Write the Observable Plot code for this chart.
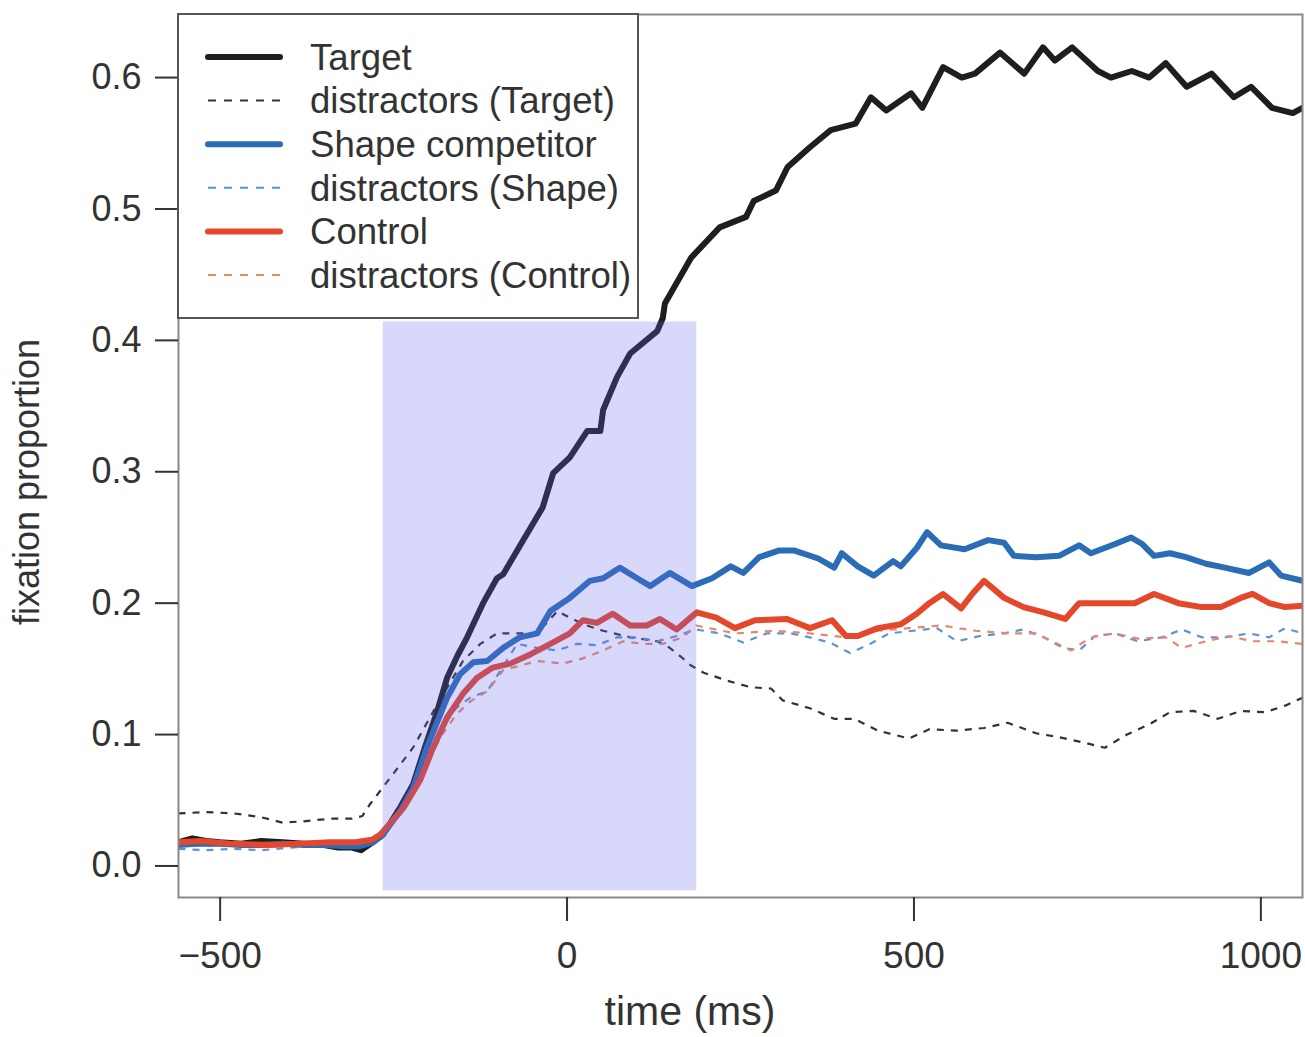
<!DOCTYPE html>
<html><head><meta charset="utf-8">
<script src="https://cdn.jsdelivr.net/npm/d3@7"></script>
<script src="https://cdn.jsdelivr.net/npm/@observablehq/plot@0.6"></script>
<style>
body{margin:0;background:#fff;}
#wrap{position:relative;width:1305px;height:1037px;}
#legend{position:absolute;left:177px;top:13px;}
</style></head><body><div id="wrap"></div>
<script>
// ---- data ----
const seriesNames = ["Target", "distractors (Target)", "Shape competitor", "distractors (Shape)", "Control", "distractors (Control)"];
const seriesColors = ["#1e1e1e", "#333333", "#2a6db4", "#5b95cf", "#e4472b", "#e8876f"];
const seriesDashed = [false, true, false, true, false, true];

const timesTarget = [-560,-540,-520,-500,-470,-441,-410,-380,-350,-330,-310,-297,-280,-265,-240,-222,-205,-187,-173,-158,-144,-121,-101,-92,-63,-35,-20,4,29,48,52,72,91,130,138,141,179,220,258,269,301,318,350,380,416,438,460,496,512,542,569,588,624,659,686,703,728,765,784,814,839,863,893,929,961,986,1016,1046,1060];
const valuesTarget = [0.018,0.021,0.019,0.018,0.017,0.019,0.018,0.017,0.016,0.014,0.014,0.012,0.018,0.024,0.045,0.062,0.09,0.118,0.143,0.16,0.174,0.2,0.219,0.222,0.248,0.273,0.299,0.311,0.331,0.331,0.347,0.372,0.39,0.407,0.417,0.428,0.463,0.486,0.494,0.506,0.514,0.532,0.547,0.56,0.565,0.585,0.575,0.588,0.577,0.608,0.6,0.603,0.619,0.603,0.623,0.613,0.623,0.605,0.6,0.605,0.6,0.611,0.593,0.603,0.585,0.593,0.577,0.573,0.577];

const timesDistTarget = [-560,-520,-480,-440,-410,-380,-340,-310,-295,-284,-255,-222,-187,-150,-125,-101,-72,-43,-14,4,23,52,91,130,148,167,174,197,231,265,294,311,350,385,414,448,493,522,562,601,635,676,709,744,775,807,840,869,903,938,971,1006,1035,1060];
const valuesDistTarget = [0.04,0.041,0.04,0.037,0.033,0.034,0.036,0.036,0.038,0.047,0.067,0.09,0.123,0.156,0.169,0.177,0.177,0.177,0.194,0.189,0.184,0.179,0.174,0.171,0.166,0.158,0.154,0.147,0.141,0.136,0.135,0.126,0.12,0.112,0.112,0.103,0.097,0.104,0.103,0.105,0.109,0.101,0.098,0.094,0.09,0.1,0.108,0.117,0.118,0.112,0.118,0.117,0.122,0.128];

const timesShape = [-560,-530,-500,-470,-440,-410,-380,-350,-320,-300,-280,-267,-240,-222,-202,-173,-154,-135,-115,-92,-68,-43,-24,4,33,52,76,101,120,148,180,209,236,254,277,305,328,362,385,396,419,442,470,481,504,519,539,573,607,630,644,676,709,738,755,790,813,829,846,869,892,921,948,983,1012,1029,1060];
const valuesShape = [0.016,0.017,0.017,0.016,0.016,0.017,0.016,0.016,0.015,0.015,0.018,0.023,0.042,0.059,0.09,0.128,0.146,0.155,0.156,0.166,0.174,0.177,0.194,0.204,0.217,0.219,0.227,0.219,0.213,0.223,0.213,0.219,0.228,0.223,0.235,0.24,0.24,0.234,0.227,0.238,0.228,0.221,0.232,0.228,0.242,0.254,0.244,0.241,0.248,0.246,0.236,0.235,0.236,0.244,0.238,0.245,0.25,0.245,0.236,0.238,0.235,0.23,0.227,0.223,0.231,0.221,0.217];

const timesDistShape = [-560,-520,-480,-440,-400,-350,-300,-270,-240,-210,-180,-160,-140,-115,-92,-72,-43,-14,14,43,72,101,130,158,186,220,254,288,323,350,379,408,437,464,499,533,562,595,630,658,687,715,738,761,790,823,857,886,915,948,983,1012,1035,1060];
const valuesDistShape = [0.013,0.012,0.013,0.012,0.014,0.015,0.016,0.022,0.045,0.075,0.105,0.12,0.128,0.133,0.152,0.169,0.166,0.164,0.169,0.168,0.174,0.174,0.171,0.175,0.18,0.177,0.17,0.177,0.177,0.174,0.17,0.162,0.169,0.177,0.179,0.181,0.171,0.175,0.177,0.18,0.174,0.166,0.164,0.175,0.177,0.171,0.174,0.18,0.174,0.174,0.177,0.174,0.181,0.177];

const timesControl = [-560,-529,-486,-428,-385,-341,-305,-281,-269,-236,-212,-193,-173,-150,-130,-107,-82,-53,-24,4,23,43,66,91,115,134,158,187,215,242,271,317,350,382,402,419,448,481,504,522,542,568,584,601,630,658,687,718,738,767,795,818,846,881,915,942,971,988,1012,1035,1060];
const valuesControl = [0.018,0.019,0.017,0.016,0.017,0.018,0.018,0.02,0.024,0.044,0.065,0.09,0.113,0.131,0.143,0.151,0.154,0.161,0.169,0.177,0.187,0.185,0.192,0.183,0.183,0.188,0.18,0.193,0.189,0.181,0.187,0.188,0.181,0.187,0.175,0.175,0.181,0.184,0.192,0.2,0.207,0.196,0.207,0.217,0.204,0.197,0.193,0.188,0.2,0.2,0.2,0.2,0.207,0.2,0.197,0.197,0.204,0.207,0.2,0.197,0.198];

const timesDistControl = [-560,-480,-400,-320,-280,-240,-210,-180,-160,-140,-115,-92,-43,-6,23,52,81,110,138,167,186,242,300,350,402,448,493,539,589,635,676,703,726,755,790,823,863,886,921,954,988,1023,1060];
const valuesDistControl = [0.016,0.015,0.016,0.017,0.019,0.042,0.07,0.1,0.115,0.125,0.133,0.149,0.156,0.154,0.158,0.164,0.171,0.169,0.169,0.174,0.183,0.177,0.179,0.177,0.174,0.179,0.181,0.183,0.179,0.177,0.177,0.17,0.164,0.174,0.177,0.173,0.174,0.166,0.171,0.175,0.171,0.171,0.169];

// shaded analysis window
const windowTimes = [-265, 187];
const windowValues = [-0.019, 0.414];

const xTicks = [-500, 0, 500, 1000];
const yTicks = [0, 0.1, 0.2, 0.3, 0.4, 0.5, 0.6];
const xTitle = "time (ms)";
const yTitle = "fixation proportion";

// ---- build marks ----
const allTimes = [timesTarget, timesDistTarget, timesShape, timesDistShape, timesControl, timesDistControl];
const allValues = [valuesTarget, valuesDistTarget, valuesShape, valuesDistShape, valuesControl, valuesDistControl];
const drawOrder = [1, 3, 5, 0, 2, 4];

const lineMarks = drawOrder.map(i => {
  const rows = allTimes[i].map((t, k) => ({t, v: allValues[i][k]}));
  return Plot.line(rows, {
    x: "t", y: "v",
    stroke: seriesColors[i],
    strokeWidth: seriesDashed[i] ? 2.2 : 6,
    strokeDasharray: seriesDashed[i] ? "7,7" : null,
    strokeLinejoin: "round",
    strokeLinecap: seriesDashed[i] ? "butt" : "round",
    clip: true
  });
});

const font = "'Liberation Sans', Arial, Helvetica, sans-serif";

const chart = Plot.plot({
  width: 1305,
  height: 1037,
  marginLeft: 178,
  marginRight: 3,
  marginTop: 14,
  marginBottom: 140,
  style: {fontFamily: font, fontSize: "36px", color: "#333", background: "#fff"},
  x: {domain: [-560, 1060]},
  y: {domain: [-0.024, 0.648]},
  marks: [
    ...lineMarks,
    Plot.rect([0], {
      x1: () => windowTimes[0], x2: () => windowTimes[1],
      y1: () => windowValues[0], y2: () => windowValues[1],
      fill: "rgb(100,100,236)", fillOpacity: 0.25
    }),
    Plot.frame({stroke: "#888", strokeWidth: 2}),
    Plot.axisX(xTicks, {tickSize: 24, tickPadding: 20, stroke: "#333", strokeWidth: 2,
      tickFormat: d => (d < 0 ? "\u2212" + Math.abs(d) : String(d)),
      label: null, fontSize: 37}),
    Plot.axisY(yTicks, {tickSize: 23, tickPadding: 14, stroke: "#333", strokeWidth: 2,
      tickFormat: d => d.toFixed(1),
      label: null, fontSize: 36})
  ]
});

const svg = d3.select(chart);
svg.append("text").attr("x", 690).attr("y", 1025).attr("text-anchor", "middle")
  .attr("font-family", font).attr("font-size", 41).attr("fill", "#333").text(xTitle);
svg.append("text").attr("transform", "translate(39,482) rotate(-90)").attr("text-anchor", "middle")
  .attr("font-family", font).attr("font-size", 36).attr("fill", "#333").text(yTitle);

const wrap = document.getElementById("wrap");
wrap.appendChild(chart);

// ---- legend (inside the plot frame, top-left) ----
const lw = 462, lh = 306;
const legend = d3.create("svg").attr("id", "legend").attr("width", lw).attr("height", lh);
legend.append("rect").attr("x", 1).attr("y", 1).attr("width", lw - 2).attr("height", lh - 2)
  .attr("fill", "#fff").attr("stroke", "#555").attr("stroke-width", 2);
seriesNames.forEach((name, i) => {
  const cy = 44 + i * 43.6;
  legend.append("line").attr("x1", 31).attr("x2", 103).attr("y1", cy).attr("y2", cy)
    .attr("stroke", seriesColors[i])
    .attr("stroke-width", seriesDashed[i] ? 2 : 6)
    .attr("stroke-dasharray", seriesDashed[i] ? "8,8" : null)
    .attr("stroke-linecap", seriesDashed[i] ? "butt" : "round");
  legend.append("text").attr("x", 133).attr("y", cy).attr("dy", "0.35em")
    .attr("font-family", font).attr("font-size", 36.6).attr("fill", "#333")
    .text(name);
});
wrap.appendChild(legend.node());
</script></body></html>
